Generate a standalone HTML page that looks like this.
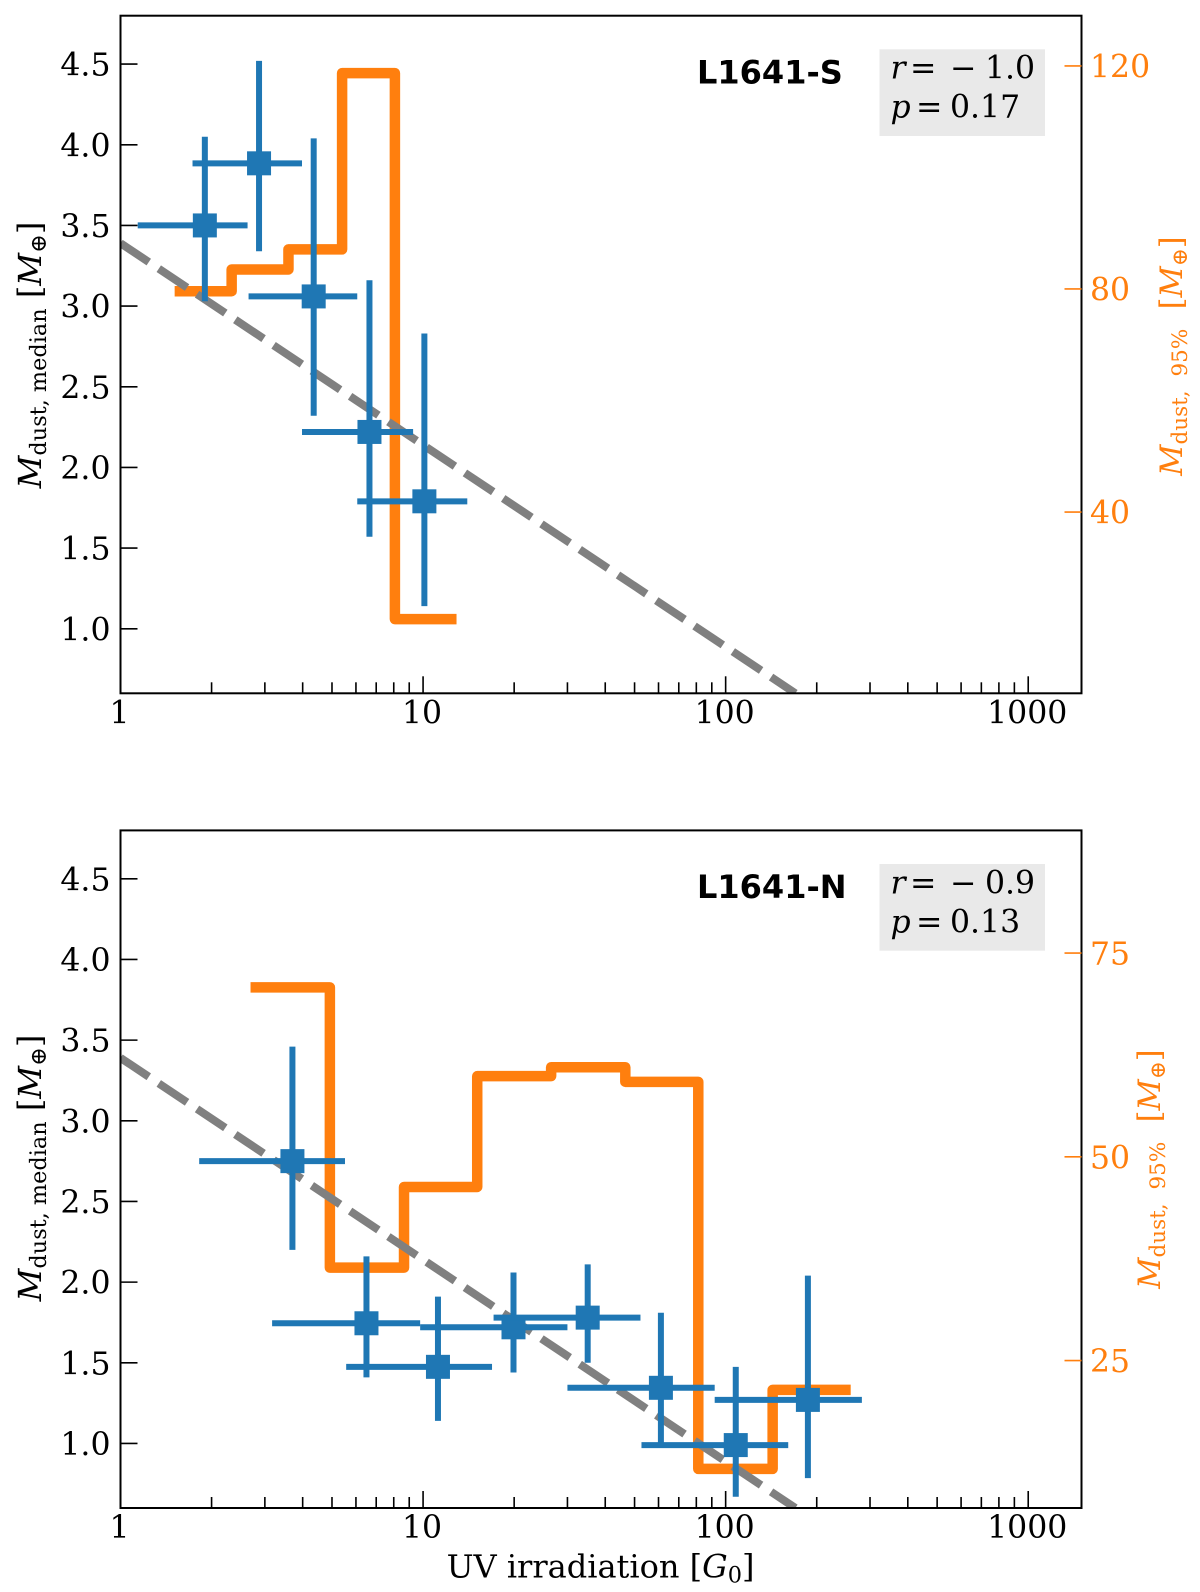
<!DOCTYPE html>
<html lang="en">
<head>
<meta charset="utf-8">
<title>Dust mass vs UV irradiation</title>
<style>
html,body{margin:0;padding:0;background:#fff;}
svg{display:block;}
text{font-family:"DejaVu Serif","Liberation Serif",serif;}
.bold{font-family:"DejaVu Sans","Liberation Sans",sans-serif;font-weight:bold;}
.i{font-style:italic;}
</style>
</head>
<body>
<svg id="chart" xmlns="http://www.w3.org/2000/svg" width="1200" height="1592" viewBox="0 0 1200 1592">
  <defs>
    <clipPath id="clip-top"><rect x="120.5" y="15.7" width="961" height="677.6"/></clipPath>
    <clipPath id="clip-bottom"><rect x="120.5" y="830.4" width="961" height="677.6"/></clipPath>
  </defs>
  <rect x="0" y="0" width="1200" height="1592" fill="#fff"/>
  <g id="panel-s"></g>
  <g id="panel-n"></g>

  <rect x="879.5" y="49.3" width="165.5" height="86.7" fill="#e9e9e9"/>
  <text y="78.7" font-size="31.5" fill="#000"><tspan class="i" x="890.5">r</tspan><tspan x="910">=</tspan><tspan x="950">−</tspan><tspan x="985">1.0</tspan></text>
  <text y="117.7" font-size="31.5" fill="#000"><tspan class="i" x="890.5">p</tspan><tspan x="916">=</tspan><tspan x="950">0.17</tspan></text>
  <text class="bold" x="697" y="83.3" font-size="32" fill="#000">L1641-S</text>

  <rect x="879.5" y="864" width="165.5" height="86.7" fill="#e9e9e9"/>
  <text y="893.4" font-size="31.5" fill="#000"><tspan class="i" x="890.5">r</tspan><tspan x="910">=</tspan><tspan x="950">−</tspan><tspan x="985">0.9</tspan></text>
  <text y="932.4" font-size="31.5" fill="#000"><tspan class="i" x="890.5">p</tspan><tspan x="916">=</tspan><tspan x="950">0.13</tspan></text>
  <text class="bold" x="697" y="898" font-size="32" fill="#000">L1641-N</text>

  <text transform="translate(41,355) rotate(-90)" text-anchor="middle" font-size="32" fill="#000"><tspan class="i">M</tspan><tspan font-size="22.4" dy="5">dust, median</tspan><tspan dy="-5"> [</tspan><tspan class="i">M</tspan><tspan font-size="22.4" dy="5">⊕</tspan><tspan dy="-5">]</tspan></text>
  <text transform="translate(41,1168) rotate(-90)" text-anchor="middle" font-size="32" fill="#000"><tspan class="i">M</tspan><tspan font-size="22.4" dy="5">dust, median</tspan><tspan dy="-5"> [</tspan><tspan class="i">M</tspan><tspan font-size="22.4" dy="5">⊕</tspan><tspan dy="-5">]</tspan></text>
  <text transform="translate(1182,356) rotate(-90)" text-anchor="middle" font-size="30.5" fill="#ff7f0e"><tspan class="i">M</tspan><tspan font-size="21.5" dy="5" word-spacing="7">dust, 95%</tspan><tspan dy="-5" xml:space="preserve">  [</tspan><tspan class="i">M</tspan><tspan font-size="21.5" dy="5">⊕</tspan><tspan dy="-5">]</tspan></text>
  <text transform="translate(1160,1169) rotate(-90)" text-anchor="middle" font-size="30.5" fill="#ff7f0e"><tspan class="i">M</tspan><tspan font-size="21.5" dy="5" word-spacing="7">dust, 95%</tspan><tspan dy="-5" xml:space="preserve">  [</tspan><tspan class="i">M</tspan><tspan font-size="21.5" dy="5">⊕</tspan><tspan dy="-5">]</tspan></text>
  <text x="600.5" y="1577.7" text-anchor="middle" font-size="32" fill="#000">UV irradiation [<tspan class="i">G</tspan><tspan font-size="22.4" dy="5">0</tspan><tspan dy="-5">]</tspan></text>
</svg>
<script>
// ---- Shared axis data ----
const xTickLabels = ["1", "10", "100", "1000"];
const xMajorTicks = [1, 10, 100, 1000];
const xMinorTicks = [2, 3, 4, 5, 6, 7, 8, 9, 20, 30, 40, 50, 60, 70, 80, 90, 200, 300, 400, 500, 600, 700, 800, 900];
const yTicks = [1.0, 1.5, 2.0, 2.5, 3.0, 3.5, 4.0, 4.5];
const yTickLabels = ["1.0", "1.5", "2.0", "2.5", "3.0", "3.5", "4.0", "4.5"];

// ---- L1641-S data ----
const sIrradiation = [1.90, 2.87, 4.35, 6.65, 10.1];
const sIrradiationLow = [1.14, 1.73, 2.65, 3.98, 6.06];
const sIrradiationHigh = [2.63, 3.98, 6.06, 9.27, 14.0];
const sMedian = [3.5, 3.885, 3.06, 2.22, 1.79];
const sMedianLow = [3.03, 3.34, 2.32, 1.57, 1.14];
const sMedianHigh = [4.05, 4.52, 4.04, 3.16, 2.83];
const sBinEdges = [1.51, 2.33, 3.59, 5.4, 8.07, 12.9];
const sMass95 = [79.6, 83.5, 87.1, 118.7, 20.8];
const sRightTicks = [40, 80, 120];
const sTrendX = [1, 170];
const sTrendY = [3.39, 0.6];

// ---- L1641-N data ----
const nIrradiation = [3.70, 6.50, 11.2, 19.9, 35, 61.1, 108, 187];
const nIrradiationLow = [1.82, 3.17, 5.57, 9.78, 17.1, 30, 52.7, 92];
const nIrradiationHigh = [5.52, 9.78, 16.9, 30, 52.3, 92, 161, 282];
const nMedian = [2.75, 1.745, 1.475, 1.72, 1.78, 1.345, 0.99, 1.27];
const nMedianLow = [2.2, 1.41, 1.14, 1.44, 1.5, 0.98, 0.67, 0.785];
const nMedianHigh = [3.46, 2.16, 1.91, 2.06, 2.11, 1.81, 1.475, 2.04];
const nBinEdges = [2.69, 4.92, 8.65, 15.1, 26.5, 46.6, 81.2, 143, 259];
const nMass95 = [70.8, 36.4, 46.3, 59.9, 61, 59.2, 11.7, 21.4];
const nRightTicks = [25, 50, 75];
const nTrendX = [1, 170];
const nTrendY = [3.39, 0.6];

const NS = "http://www.w3.org/2000/svg";
const BLUE = "#1f77b4", ORANGE = "#ff7f0e", GRAY = "#808080";
const PLOT_LEFT = 120.5, PLOT_RIGHT = 1081.5, PLOT_HEIGHT = 677.6;
const X_MAX = 1500;

function xScale(v) {
  return PLOT_LEFT + Math.log10(v) / Math.log10(X_MAX) * (PLOT_RIGHT - PLOT_LEFT);
}
function makeYScale(top) {
  return function (v) { return top + (4.8 - v) / (4.8 - 0.6) * PLOT_HEIGHT; };
}
function makeY2Scale(top, lo, hi) {
  return function (v) { return top + (hi - v) / (hi - lo) * PLOT_HEIGHT; };
}
function el(tag, attrs, parent) {
  const node = document.createElementNS(NS, tag);
  for (const k in attrs) node.setAttribute(k, attrs[k]);
  parent.appendChild(node);
  return node;
}

function drawPanel(g, opts) {
  const top = opts.top, bottom = top + PLOT_HEIGHT;
  const y = makeYScale(top);
  const y2 = makeY2Scale(top, opts.y2Lo, opts.y2Hi);

  // histogram step (95% mass)
  let d = "";
  opts.levels.forEach(function (lv, i) {
    d += (i === 0 ? "M" : "L") + xScale(opts.edges[i]).toFixed(2) + " " + y2(lv).toFixed(2);
    d += "L" + xScale(opts.edges[i + 1]).toFixed(2) + " " + y2(lv).toFixed(2);
  });
  const step = el("path", { d: d, fill: "none", stroke: ORANGE, "stroke-width": 10.5, "stroke-linejoin": "round", "stroke-linecap": "butt" }, g);
  
  

  // trend line
  const trend = el("line", { x1: xScale(opts.trendX[0]), y1: y(opts.trendY[0]), x2: xScale(opts.trendX[1]), y2: y(opts.trendY[1]), stroke: GRAY, "stroke-width": 8, "stroke-dasharray": "34 12", "clip-path": "url(#" + opts.clip + ")" }, g);
  
  

  // error bars and markers
  opts.x.forEach(function (xv, i) {
    const cx = xScale(xv), cy = y(opts.med[i]);
    const h = el("line", { x1: xScale(opts.xLow[i]), x2: xScale(opts.xHigh[i]), y1: cy, y2: cy, stroke: BLUE, "stroke-width": 6 }, g);
    
    
    const v = el("line", { x1: cx, x2: cx, y1: y(opts.medHigh[i]), y2: y(opts.medLow[i]), stroke: BLUE, "stroke-width": 6 }, g);
    
    
    const m = el("rect", { x: cx - 12, y: cy - 12, width: 24, height: 24, fill: BLUE }, g);
    
    
  });

  // frame
  const frame = el("rect", { x: PLOT_LEFT, y: top, width: PLOT_RIGHT - PLOT_LEFT, height: PLOT_HEIGHT, fill: "none", stroke: "#000", "stroke-width": 2 }, g);
  
  

  // x ticks
  xMajorTicks.forEach(function (t, i) {
    const tick = el("line", { x1: xScale(t), x2: xScale(t), y1: bottom, y2: bottom - 17, stroke: "#000", "stroke-width": 1.6 }, g);
    
    
    const lab = el("text", { x: xScale(t) - 1, y: bottom + 30, "text-anchor": "middle", "font-size": 31.5, fill: "#000" }, g);
    lab.textContent = xTickLabels[i];
    
    
  });
  xMinorTicks.forEach(function (t) {
    const tick = el("line", { x1: xScale(t), x2: xScale(t), y1: bottom, y2: bottom - 11, stroke: "#000", "stroke-width": 1.6 }, g);
    
    
  });

  // left y ticks
  yTicks.forEach(function (t, i) {
    const tick = el("line", { x1: PLOT_LEFT, x2: PLOT_LEFT + 17, y1: y(t), y2: y(t), stroke: "#000", "stroke-width": 1.6 }, g);
    
    
    const lab = el("text", { x: 110.5, y: y(t) + 11.5, "text-anchor": "end", "font-size": 31.5, fill: "#000" }, g);
    lab.textContent = yTickLabels[i];
    
    
  });

  // right y ticks
  opts.rightTicks.forEach(function (t) {
    const tick = el("line", { x1: PLOT_RIGHT - 17, x2: PLOT_RIGHT, y1: y2(t), y2: y2(t), stroke: ORANGE, "stroke-width": 1.6 }, g);
    
    
    const lab = el("text", { x: 1090, y: y2(t) + 11.5, "font-size": 31.5, fill: ORANGE }, g);
    lab.textContent = String(t);
    
    
  });
}

drawPanel(document.getElementById("panel-s"), {
  top: 15.7, clip: "clip-top", y2Lo: 7.5, y2Hi: 129,
  x: sIrradiation, xLow: sIrradiationLow, xHigh: sIrradiationHigh,
  med: sMedian, medLow: sMedianLow, medHigh: sMedianHigh,
  edges: sBinEdges, levels: sMass95, rightTicks: sRightTicks,
  trendX: sTrendX, trendY: sTrendY
});
drawPanel(document.getElementById("panel-n"), {
  top: 830.4, clip: "clip-bottom", y2Lo: 6.9, y2Hi: 90.06,
  x: nIrradiation, xLow: nIrradiationLow, xHigh: nIrradiationHigh,
  med: nMedian, medLow: nMedianLow, medHigh: nMedianHigh,
  edges: nBinEdges, levels: nMass95, rightTicks: nRightTicks,
  trendX: nTrendX, trendY: nTrendY
});
</script>
</body>
</html>
